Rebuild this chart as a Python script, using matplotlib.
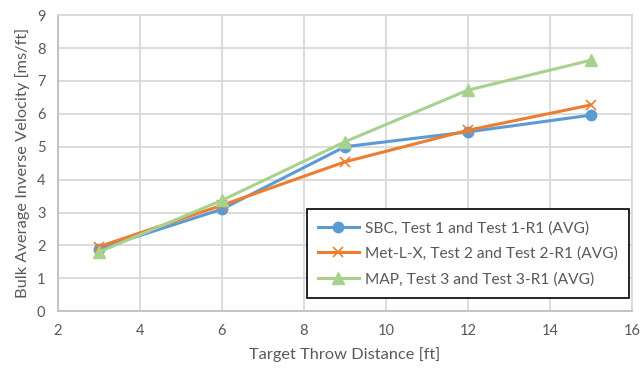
import matplotlib
matplotlib.use("Agg")
import matplotlib.pyplot as plt

plt.rcParams['font.family'] = ['Lato', 'DejaVu Sans']

distance = [3, 6, 9, 12, 15]
sbc = [1.90, 3.10, 5.00, 5.45, 5.96]
met_l_x = [1.96, 3.22, 4.54, 5.50, 6.27]
map_ = [1.80, 3.37, 5.15, 6.72, 7.63]

series_labels = [
    "SBC, Test 1 and Test 1-R1 (AVG)",
    "Met-L-X, Test 2 and Test 2-R1 (AVG)",
    "MAP, Test 3 and Test 3-R1 (AVG)",
]
x_ticks = [2, 4, 6, 8, 10, 12, 14, 16]
y_ticks = [0, 1, 2, 3, 4, 5, 6, 7, 8, 9]

fig = plt.figure(figsize=(6.44, 3.70), dpi=100)
ax = fig.add_axes([0.090, 0.159, 0.891, 0.800])

grid_c = "#d9d9d9"
text_c = "#595959"

ax.plot(distance, sbc, color="#5B9BD5", lw=2.2, marker="o", ms=7.5,
        label=series_labels[0], zorder=3)
ax.plot(distance, met_l_x, color="#ED7D31", lw=2.2, marker="x", ms=7,
        mew=1.2, label=series_labels[1], zorder=4)
ax.plot(distance, map_, color="#A9D18E", lw=2.2, marker="^", ms=8,
        label=series_labels[2], zorder=5)

ax.set_xlim(2, 16)
ax.set_ylim(0, 9)
ax.set_xticks(x_ticks)
ax.set_yticks(y_ticks)
ax.grid(True, color=grid_c, lw=1.3)
ax.set_axisbelow(True)
for s in ax.spines.values():
    s.set_color(grid_c)
    s.set_linewidth(1.3)
ax.spines['bottom'].set_color("#bfbfbf")
ax.spines['left'].set_color("#bfbfbf")
ax.tick_params(length=0, labelsize=10.5, labelcolor=text_c, pad=9)

ax.set_xlabel("Target Throw Distance [ft]", fontsize=11.8, color=text_c, labelpad=7)
ax.set_ylabel("Bulk Average Inverse Velocity [ms/ft]", fontsize=11.8, color=text_c, labelpad=5)

leg = ax.legend(loc="lower right", bbox_to_anchor=(0.996, 0.044), fontsize=11.2,
                frameon=True, fancybox=False, edgecolor="black", framealpha=1,
                handlelength=2.6, labelspacing=0.72, borderpad=0.75,
                handletextpad=0.4, borderaxespad=0)
leg.get_frame().set_linewidth(1.2)
for t in leg.get_texts():
    t.set_color(text_c)

fig.savefig("out.png", dpi=100)
